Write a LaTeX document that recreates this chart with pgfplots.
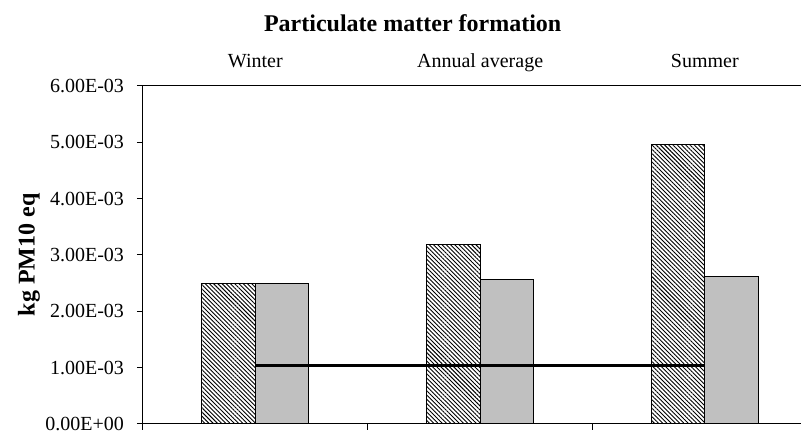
\documentclass[border=0pt]{standalone}
\usepackage{pgfplots}
\pgfplotsset{compat=1.18}
\usepackage{fontspec}
\setmainfont{Liberation Serif}
\usetikzlibrary{patterns.meta, calc}

\definecolor{barGray}{HTML}{C0C0C0}

\begin{document}
\begin{tikzpicture}
\begin{axis}[
    width=329pt, height=169pt, scale only axis,
    xmin=0, xmax=2.928,
    ymin=0, ymax=0.006,
    axis x line=box, axis y line*=left,
    axis line style={line width=0.5pt},
    xtick={0,1,2}, xticklabels={},
    xtick pos=lower,
    ytick={0,0.001,0.002,0.003,0.004,0.005,0.006},
    yticklabels={0.00E+00,1.00E-03,2.00E-03,3.00E-03,4.00E-03,5.00E-03,6.00E-03},
    ytick pos=left,
    yticklabel style={xshift=-3pt},
    tick align=outside,
    major tick length=3pt,
    tick style={black, line width=0.5pt},
    tick label style={font=\fontsize{10}{12}\selectfont},
    scaled y ticks=false,
    clip=false,
]
% winter, annual average, summer
\addplot[ybar, bar width=0.238, bar shift=-0.119, draw=black, line width=0.5pt,
    pattern={Lines[angle=-45, distance=1.5pt, line width=0.45pt]}]
    coordinates {(0.5,0.00250) (1.5,0.00318) (2.5,0.00496)};
\addplot[ybar, bar width=0.238, bar shift=0.119, draw=black, line width=0.5pt, fill=barGray]
    coordinates {(0.5,0.00249) (1.5,0.00256) (2.5,0.00262)};
\addplot[black, line width=1.4pt, mark=none]
    coordinates {(0.5,0.00104) (1.5,0.00104) (2.5,0.00104)};

\node[anchor=base, font=\fontsize{10}{12}\selectfont] at ([yshift=9pt]axis cs:0.5,0.006) {Winter};
\node[anchor=base, font=\fontsize{10}{12}\selectfont] at ([yshift=9pt]axis cs:1.5,0.006) {Annual average};
\node[anchor=base, font=\fontsize{10}{12}\selectfont] at ([yshift=9pt]axis cs:2.5,0.006) {Summer};
\node[anchor=base, font=\fontsize{12}{14}\selectfont\bfseries] at ([yshift=27pt]axis cs:1.2,0.006) {Particulate matter formation};
\node[rotate=90, font=\fontsize{12}{14}\selectfont\bfseries] at ([xshift=-57pt]rel axis cs:0,0.5) {kg PM10 eq};

\coordinate (bl) at (rel axis cs:0,0);
\coordinate (tr) at (rel axis cs:1,1);
\end{axis}
\pgfresetboundingbox
\path ($(bl)+(-71.5pt,-5.5pt)$) rectangle ($(tr)+(0,43pt)$);
\end{tikzpicture}
\end{document}
